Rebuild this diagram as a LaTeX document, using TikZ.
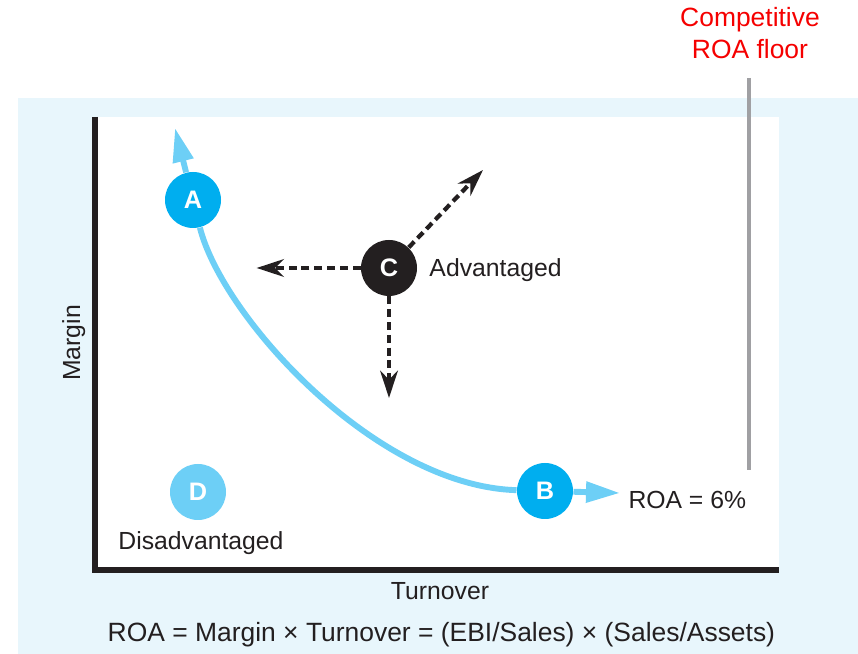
\documentclass[tikz,border=0pt]{standalone}
\usepackage{fontspec}
\setmainfont{Liberation Sans}
\usetikzlibrary{arrows.meta, positioning}

\definecolor{fondo}{RGB}{232,246,252}
\definecolor{cian}{RGB}{0,174,239}
\definecolor{cianclaro}{RGB}{109,207,246}
\definecolor{tinta}{RGB}{35,31,32}
\definecolor{gris}{RGB}{160,160,163}
\definecolor{rojo}{RGB}{245,0,0}

\begin{document}
\begin{tikzpicture}[line width=0.7pt,
  punto/.style={circle, minimum size=1.4cm, inner sep=0pt, text=white,
    font=\fontsize{18}{20}\selectfont\bfseries},
  etiqueta/.style={inner sep=0pt, text=tinta, font=\fontsize{17.6}{20}\selectfont},
  curva/.style={line width=4.2pt, cianclaro},
  punta/.style={curva, -{Triangle[length=0.85cm, width=0.5cm]}},
  flecha/.style={line width=3pt, tinta, dash pattern=on 0.2cm off 0.12cm,
    -{Stealth[length=0.68cm, width=0.44cm]}}]
  \useasboundingbox (-2.375,-2.1) rectangle (19.075,14.25);
  % fondo y zona del grafico
  \fill[fondo] (-1.925,-2.1) rectangle (19.075,11.8);
  \fill[white] (0,0) rectangle (17.1,11.325);
  % ejes
  \draw[line width=0.15cm, tinta] (0,11.325)--(0,0)--(17.1,0);
  \node[etiqueta, anchor=base] (turnover) at (8.625,-0.75) {Turnover};
  \node[etiqueta, anchor=base, rotate=90] (margin) at (-0.375,5.675) {Margin};
  \node[etiqueta, anchor=base, font=\fontsize{18.8}{20}\selectfont] (formula) at (8.66,-1.8)
    {ROA = Margin × Turnover = (EBI/Sales) × (Sales/Assets)};
  % piso competitivo
  \coordinate (techo) at (16.35,12.3);
  \coordinate (suelo) at (16.35,2.5);
  \draw[line width=2.2pt, gris] (techo)--(suelo);
  \node[etiqueta, align=center, text=rojo, font=\fontsize{18.8}{22.5}\selectfont] (piso)
    at (16.375,13.42) {Competitive\\ROA floor};
  % puntos
  \node[punto, fill=cian] (A) at (2.45,9.25) {A};
  \node[punto, fill=cian] (B) at (11.25,1.975) {B};
  \node[punto, fill=tinta] (C) at (7.35,7.55) {C};
  \node[punto, fill=cianclaro] (D) at (2.575,1.95) {D};
  % curva de ROA constante
  \coordinate (Atope) at (2.0,11.05);
  \coordinate (Bfin) at (13.125,1.925);
  \draw[curva] (A) .. controls (3.175,6.35) and (7.0,2.1) .. (B);
  \draw[punta] (A)--(Atope);
  \draw[punta] (B)--(Bfin);
  \node[etiqueta, anchor=base west] (roa) at (13.325,1.525) {ROA = 6\%};
  % movimientos desde C
  \coordinate (Cizq) at (4.04,7.55);
  \coordinate (Cabajo) at (7.35,4.3);
  \coordinate (Carriba) at (9.7,10.0);
  \draw[flecha] (C)--(Cizq);
  \draw[flecha] (C)--(Cabajo);
  \draw[flecha] (C)--(Carriba);
  \node[etiqueta, anchor=base west] (ventaja) at (8.35,7.325) {Advantaged};
  \node[etiqueta, anchor=base] (desventaja) at (2.65,0.5) {Disadvantaged};
\end{tikzpicture}
\end{document}
